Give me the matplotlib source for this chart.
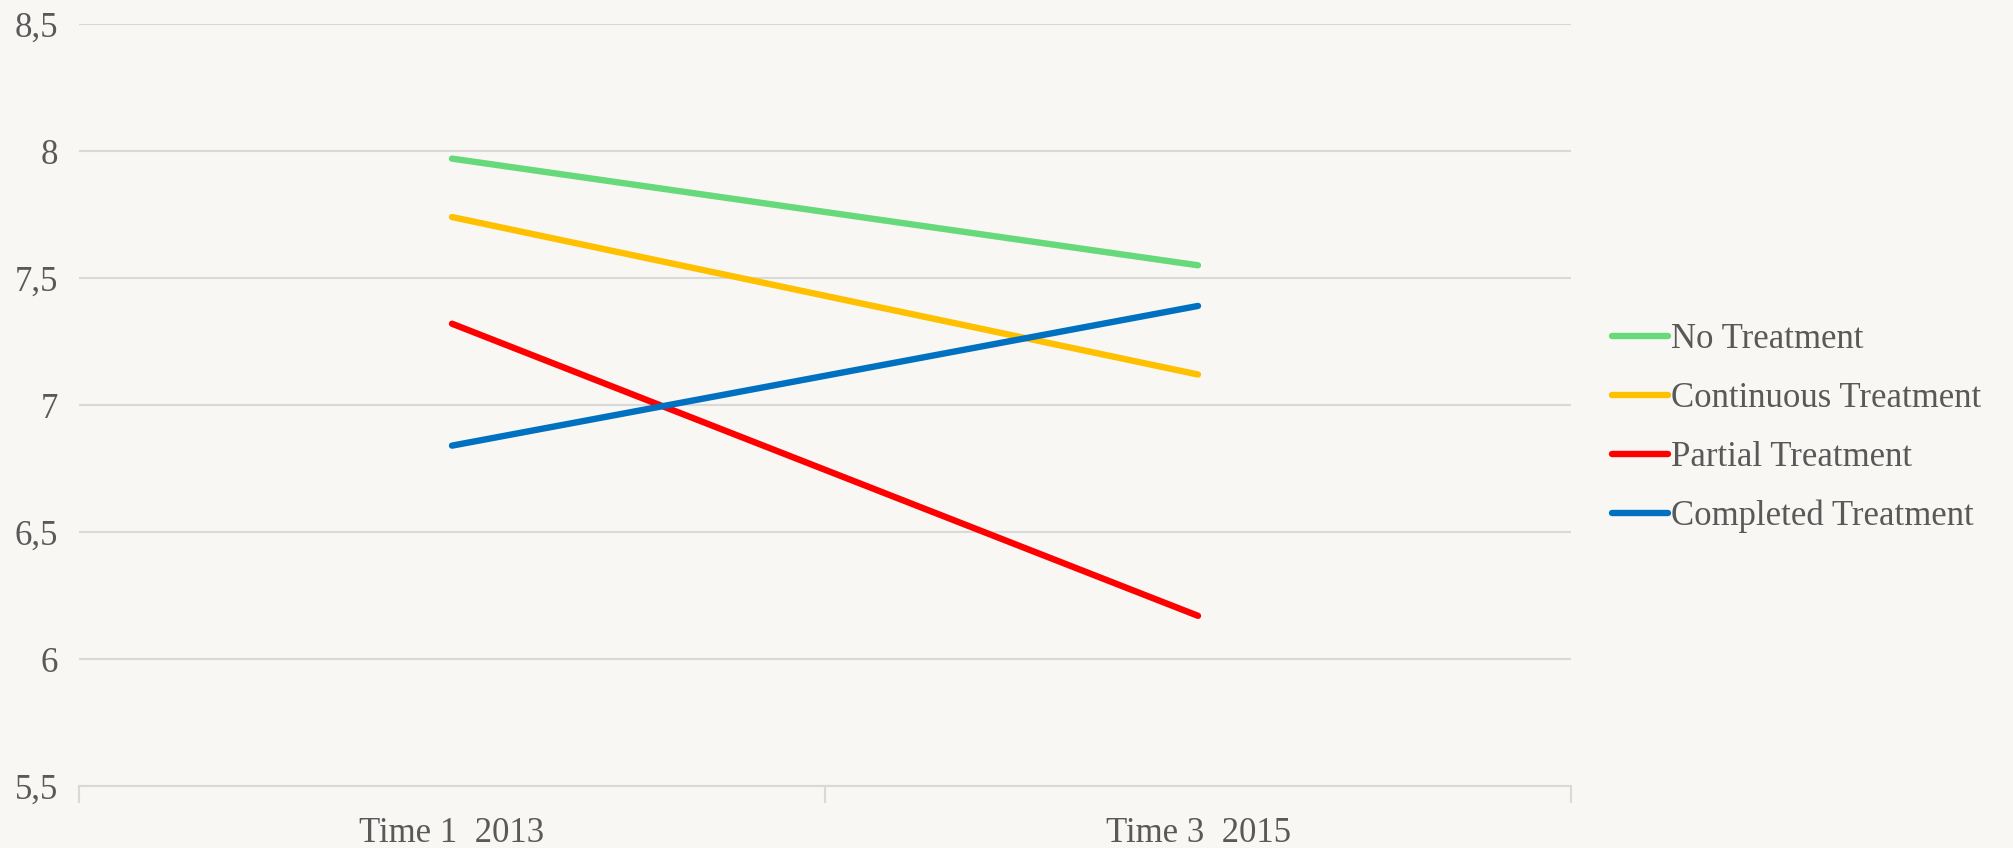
import matplotlib
matplotlib.use("Agg")
import matplotlib.pyplot as plt
from matplotlib.ticker import FuncFormatter

background_color = "#f9f7f4"
grid_color = "#d9d9d9"
text_color = "#595959"

categories = ["Time 1  2013", "Time 3  2015"]
series_names = ["No Treatment", "Continuous Treatment",
                "Partial Treatment", "Completed Treatment"]
no_treatment = [7.97, 7.55]
continuous_treatment = [7.74, 7.12]
partial_treatment = [7.32, 6.17]
completed_treatment = [6.84, 7.39]
series_colors = ["#66d97a", "#ffc000", "#ff0000", "#0070c0"]
y_ticks = [5.5, 6, 6.5, 7, 7.5, 8, 8.5]

plt.rcParams["font.family"] = ["Liberation Serif", "DejaVu Serif"]

figure = plt.figure(figsize=(20.13, 8.48), dpi=100)
figure.patch.set_facecolor(background_color)

axes = figure.add_axes([79 / 2013, 1 - 786 / 848, 1492 / 2013, 762 / 848])
axes.set_facecolor(background_color)

x = list(range(len(categories)))
all_series = [no_treatment, continuous_treatment, partial_treatment, completed_treatment]
for values, name, color in zip(all_series, series_names, series_colors):
    axes.plot(x, values, color=color, linewidth=4.6, solid_capstyle="round", label=name)

axes.set_xlim(-0.5, len(categories) - 0.5)
axes.set_ylim(5.5, 8.5)
axes.set_yticks(y_ticks)
axes.yaxis.set_major_formatter(FuncFormatter(
    lambda v, pos: str(int(v)) if float(v).is_integer() else f"{v:g}".replace(".", ",")))
axes.grid(axis="y", color=grid_color, linewidth=1.5)
axes.set_axisbelow(True)

axes.set_xticks(x)
axes.set_xticklabels(categories)
axes.set_xticks([-0.5, 0.5, 1.5], minor=True)
axes.tick_params(axis="x", which="major", length=0, pad=22)
axes.tick_params(axis="x", which="minor", length=12, width=1.5, color=grid_color)
axes.tick_params(axis="y", length=0, pad=15)
for label in axes.get_xticklabels() + axes.get_yticklabels():
    label.set_color(text_color)
    label.set_fontsize(25)

for side in ["top", "right", "left"]:
    axes.spines[side].set_visible(False)
axes.spines["bottom"].set_color(grid_color)
axes.spines["bottom"].set_linewidth(1.5)

legend = figure.legend(loc="center left", bbox_to_anchor=(1581 / 2013, 1 - 428 / 848),
                       frameon=False, fontsize=25, handlelength=1.6, handletextpad=0.1,
                       labelspacing=0.75, labelcolor=text_color)

figure.savefig("out.png", dpi=100, facecolor=background_color)
